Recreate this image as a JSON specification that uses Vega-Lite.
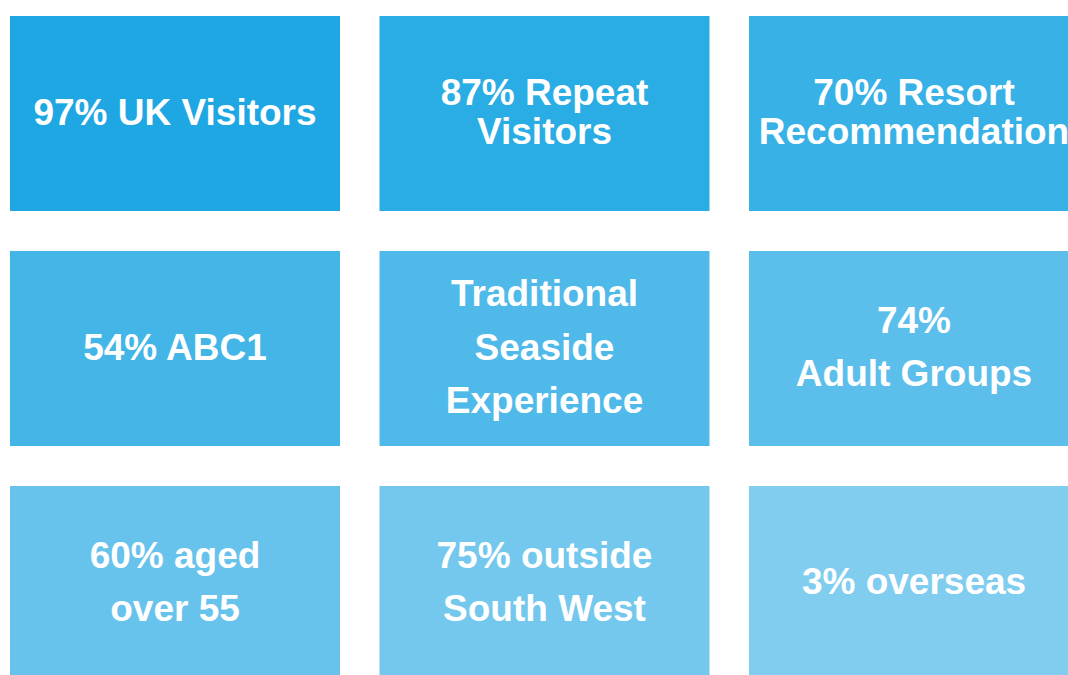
{
  "$schema": "https://vega.github.io/schema/vega-lite/v6.json",
  "width": 1068,
  "height": 675,
  "padding": 0,
  "autosize": {"type": "none"},
  "background": "white",
  "config": {"view": {"stroke": null}},
  "data": {
    "values": [
      {"tile": "t1", "col": 0, "row": 0, "label": "97% UK Visitors"},
      {"tile": "t2", "col": 1, "row": 0, "label": "87% Repeat\nVisitors"},
      {"tile": "t3", "col": 2, "row": 0, "label": "70% Resort\nRecommendation"},
      {"tile": "t4", "col": 0, "row": 1, "label": "54% ABC1"},
      {"tile": "t5", "col": 1, "row": 1, "label": "Traditional\nSeaside\nExperience"},
      {"tile": "t6", "col": 2, "row": 1, "label": "74%\nAdult Groups"},
      {"tile": "t7", "col": 0, "row": 2, "label": "60% aged\nover 55"},
      {"tile": "t8", "col": 1, "row": 2, "label": "75% outside\nSouth West"},
      {"tile": "t9", "col": 2, "row": 2, "label": "3% overseas"}
    ]
  },
  "encoding": {
    "x": {"field": "col", "type": "ordinal", "axis": null,
          "scale": {"range": [10, 1079], "paddingInner": 0.1069, "paddingOuter": 0}},
    "y": {"field": "row", "type": "ordinal", "axis": null,
          "scale": {"range": [16, 681], "paddingInner": 0.1702, "paddingOuter": 0}},
    "text": {"field": "label", "type": "nominal"}
  },
  "layer": [
    {
      "mark": {"type": "rect"},
      "encoding": {
        "text": null,
        "color": {"field": "tile", "type": "nominal", "legend": null,
                  "scale": {"domain": ["t1","t2","t3","t4","t5","t6","t7","t8","t9"],
                            "range": ["#1EA7E3","#2AACE4","#37B1E6","#43B6E7","#4FBAE9","#5CBEEA","#68C3EC","#74C8ED","#80CDEF"]}}
      }
    },
    {
      "transform": [{"filter": "length(split(datum.label, '\\n')) == 1"}],
      "mark": {"type": "text", "font": "Liberation Sans", "fontWeight": "bold", "fontSize": 37, "color": "white",
               "align": "center", "baseline": "middle", "lineBreak": "\n", "lineHeight": 39, "dy": 0}
    },
    {
      "transform": [{"filter": "datum.row == 0 && length(split(datum.label, '\\n')) == 2"}],
      "mark": {"type": "text", "font": "Liberation Sans", "fontWeight": "bold", "fontSize": 37, "color": "white",
               "align": "center", "baseline": "middle", "lineBreak": "\n", "lineHeight": 39, "dy": -19.5}
    },
    {
      "transform": [{"filter": "datum.row != 0 && length(split(datum.label, '\\n')) == 2"}],
      "mark": {"type": "text", "font": "Liberation Sans", "fontWeight": "bold", "fontSize": 37, "color": "white",
               "align": "center", "baseline": "middle", "lineBreak": "\n", "lineHeight": 53.5, "dy": -26.75}
    },
    {
      "transform": [{"filter": "datum.row != 0 && length(split(datum.label, '\\n')) == 3"}],
      "mark": {"type": "text", "font": "Liberation Sans", "fontWeight": "bold", "fontSize": 37, "color": "white",
               "align": "center", "baseline": "middle", "lineBreak": "\n", "lineHeight": 53.5, "dy": -53.5}
    }
  ]
}
